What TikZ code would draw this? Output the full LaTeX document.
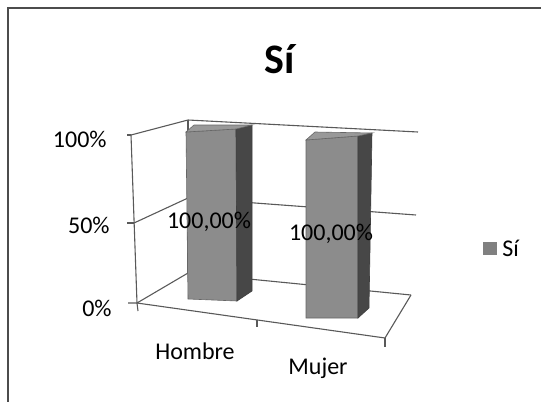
\documentclass[tikz,border=0pt]{standalone}
\usepackage{fontspec}
\setmainfont{Carlito}
\usepackage{tikz}
\usetikzlibrary{calc}
\usepackage{xcolor}

\begin{document}
\begin{tikzpicture}[x=0.5pt,y=-0.5pt,
    gridline/.style={draw=black!65,line width=0.55pt},
    barfront/.style={fill=black!45,draw=black!60,line width=0.3pt},
    barside/.style={fill=black!72,draw=black!75,line width=0.3pt},
    bartop/.style={fill=black!40,draw=black!60,line width=0.3pt},
    axislabel/.style={font=\fontsize{12}{14}\selectfont,inner sep=0pt}]
  \useasboundingbox (0,0) rectangle (541,402);
  % chart frame
  \draw[black!70,line width=0.6pt] (541,8) -- (8,8) -- (8,402);
  % title
  \node[font=\fontsize{21}{24}\selectfont\bfseries,anchor=base,inner sep=0pt] (title) at (280,73) {Sí};
  % corners of walls and floor
  \coordinate (ftop) at (131,135);
  \coordinate (fmid) at (134,223);
  \coordinate (fbot) at (137,303);
  \coordinate (btop) at (188,120);
  \coordinate (bmid) at (188,198);
  \coordinate (bbot) at (188,273);
  \coordinate (rtop) at (418,132);
  \coordinate (rmid) at (416,215);
  \coordinate (rbot) at (411,295);
  \coordinate (frbot) at (385,338);
  % walls, gridlines and floor
  \draw[gridline] (ftop) -- (btop) -- (rtop);
  \draw[gridline] (fmid) -- (bmid) -- (rmid);
  \draw[gridline] (fbot) -- (bbot) -- (rbot);
  \draw[gridline] (btop) -- (bbot);
  \draw[gridline] (ftop) -- (fbot) -- (frbot) -- (rbot);
  % ticks
  \draw[gridline] (127,135) -- (ftop);
  \draw[gridline] (127,223) -- (fmid);
  \draw[gridline] (128,303) -- (fbot) -- (138,311);
  \draw[gridline] (257,320) -- (257,327);
  \draw[gridline] (frbot) -- (385,347);
  % bar Hombre
  \draw[barfront] (186,132) -- (236,129) -- (237,301) -- (188,299) -- cycle;
  \draw[barside] (236,129) -- (252,125) -- (252,291) -- (237,301) -- cycle;
  \draw[bartop] (186,132) -- (194,125) -- (252,125) -- (236,129) -- cycle;
  % bar Mujer
  \draw[barfront] (306,140) -- (358,136) -- (358,318) -- (306,318) -- cycle;
  \draw[barside] (358,136) -- (372,133) -- (369,308) -- (358,318) -- cycle;
  \draw[bartop] (306,140) -- (315,132) -- (372,133) -- (358,136) -- cycle;
  % axis labels
  \node[axislabel,anchor=east] (p100) at (107,139) {100\%};
  \node[axislabel,anchor=east] (p50) at (110,225) {50\%};
  \node[axislabel,anchor=east] (p0) at (112,308) {0\%};
  \node[axislabel,anchor=base] (hombre) at (195,359) {Hombre};
  \node[axislabel,anchor=base] (mujer) at (318,374) {Mujer};
  % data labels
  \node[axislabel,anchor=base] (valh) at (209,228) {100,00\%};
  \node[axislabel,anchor=base] (valm) at (331,240) {100,00\%};
  % legend
  \fill[black!50] (483,242) rectangle (497,255);
  \node[axislabel,anchor=west] (legsi) at (502,248) {Sí};
\end{tikzpicture}
\end{document}
